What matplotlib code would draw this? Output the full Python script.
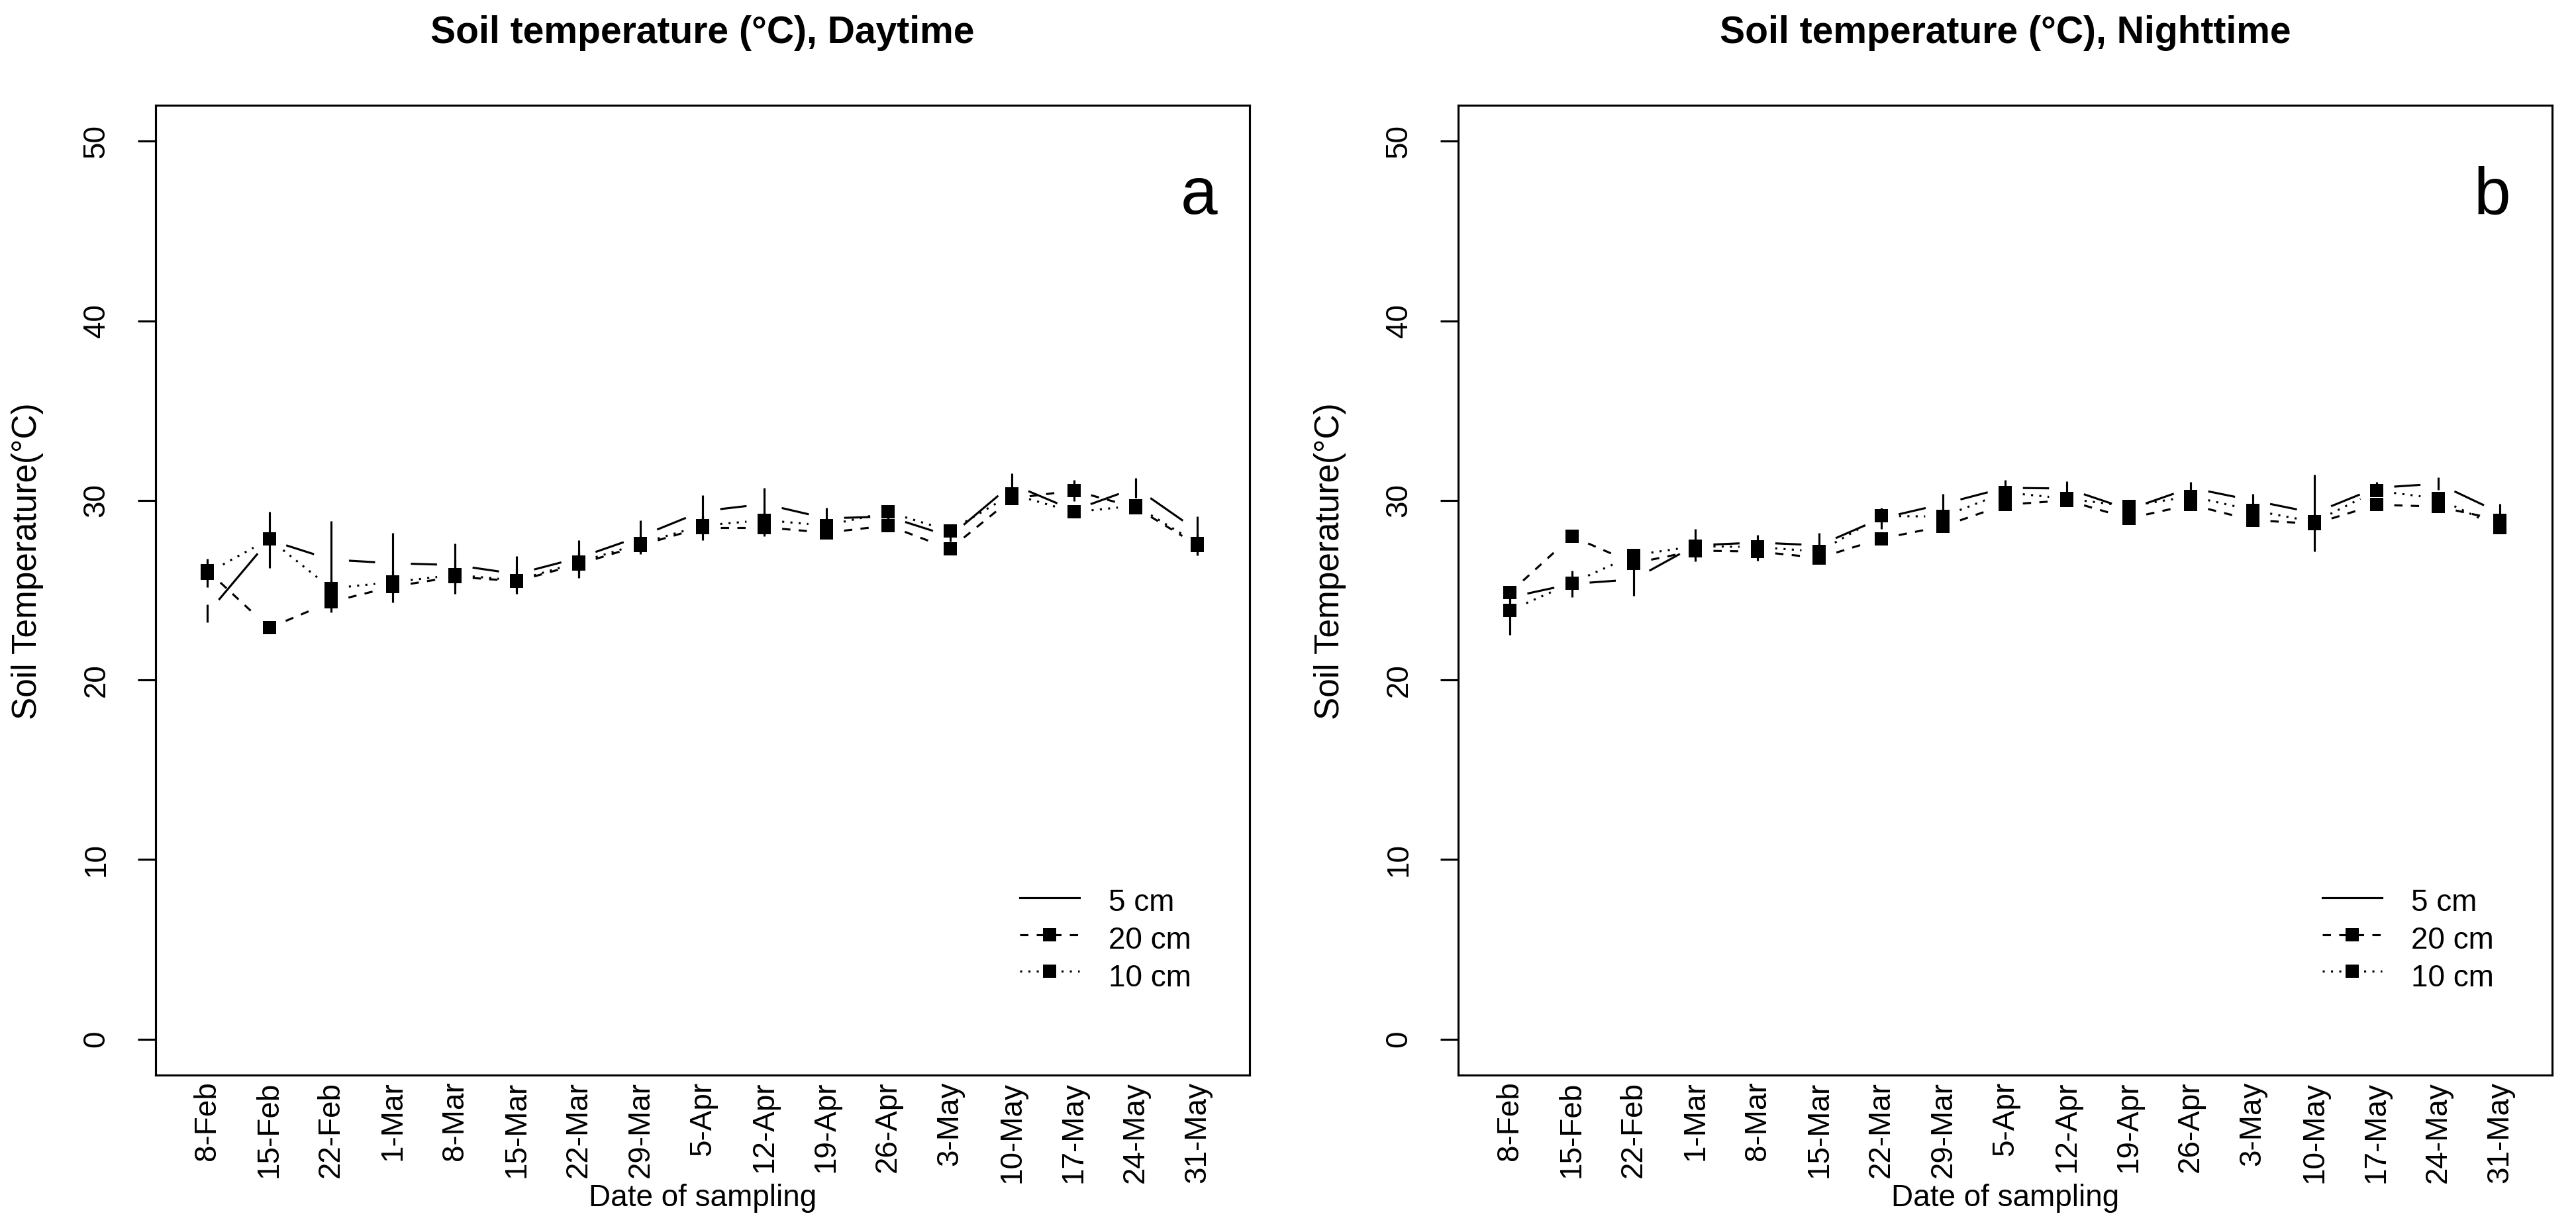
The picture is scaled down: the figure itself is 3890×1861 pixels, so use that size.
import numpy as np
import matplotlib
matplotlib.use("Agg")
import matplotlib.pyplot as plt

plt.rcParams['font.family'] = ['Liberation Sans', 'DejaVu Sans']

# Sampling dates (weekly)
dates = ['8-Feb', '15-Feb', '22-Feb', '1-Mar', '8-Mar', '15-Mar', '22-Mar', '29-Mar',
         '5-Apr', '12-Apr', '19-Apr', '26-Apr', '3-May', '10-May', '17-May', '24-May', '31-May']

# Daytime soil temperature (°C) and error
day_5cm = [23.7, 27.8, 26.7, 26.5, 26.4, 25.9, 26.8, 28.0, 29.4, 29.8, 29.0, 29.1, 28.0, 30.9, 29.45, 30.7, 28.3]
day_5cm_err = [0.5, 1.55, 2.15, 1.7, 1.2, 1.0, 1.0, 0.9, 0.9, 0.9, 0.6, 0.3, 0.3, 0.6, 0.3, 0.55, 0.8]
day_20cm = [26.1, 22.9, 24.35, 25.2, 25.75, 25.5, 26.45, 27.5, 28.5, 28.5, 28.2, 28.6, 27.3, 30.1, 30.55, 29.6, 27.5]
day_20cm_err = [0.55, 0.2, 0.58, 0.9, 0.95, 0.7, 0.75, 0.5, 0.7, 0.5, 0.3, 0.3, 0.3, 0.3, 0.6, 0.3, 0.57]
day_10cm = [25.95, 27.85, 25.1, 25.45, 25.85, 25.55, 26.55, 27.6, 28.6, 28.9, 28.6, 29.35, 28.3, 30.35, 29.35, 29.7, 27.6]
day_10cm_err = [0.8, 0.3, 0.5, 0.4, 0.5, 0.4, 0.5, 0.4, 0.5, 0.5, 0.3, 0.3, 0.3, 0.3, 0.3, 0.3, 0.5]

# Nighttime soil temperature (°C) and error
night_5cm = [24.6, 25.35, 25.6, 27.5, 27.65, 27.5, 29.0, 29.8, 30.7, 30.66, 29.5, 30.7, 30.0, 29.3, 30.7, 30.93, 29.3]
night_5cm_err = [0.3, 0.75, 0.9, 0.9, 0.42, 0.7, 0.6, 0.55, 0.45, 0.4, 0.3, 0.33, 0.35, 2.15, 0.33, 0.35, 0.5]
night_20cm = [24.86, 28.0, 26.5, 27.2, 27.15, 26.8, 27.87, 28.56, 29.76, 30.0, 29.0, 29.76, 28.9, 28.7, 29.76, 29.65, 28.9]
night_20cm_err = [0.3, 0.2, 0.3, 0.3, 0.5, 0.3, 0.3, 0.3, 0.3, 0.3, 0.3, 0.3, 0.3, 0.3, 0.3, 0.3, 0.3]
night_10cm = [23.87, 25.4, 26.95, 27.45, 27.4, 27.15, 29.13, 29.1, 30.44, 30.1, 29.67, 30.23, 29.45, 28.8, 30.54, 30.1, 28.47]
night_10cm_err = [1.37, 0.3, 0.3, 0.3, 0.3, 0.3, 0.3, 0.3, 0.3, 0.3, 0.3, 0.3, 0.3, 0.3, 0.3, 0.3, 0.3]

W, H = 3890, 1861
LW = 2.25          # line width (pt)
GAP = 27           # gap around points (px), like R type="b"
FS = 33            # base font size
DASHED = (0, (4, 4))
DOTTED = (0, (1, 3))


def gapped_line(ax, x, y, ls):
    """Draw point-to-point segments leaving a gap round each point"""
    pts = ax.transData.transform(np.column_stack([x, y]))
    inv = ax.transData.inverted()
    for i in range(len(pts) - 1):
        p0, p1 = pts[i], pts[i + 1]
        d = p1 - p0
        L = np.hypot(d[0], d[1])
        if L <= 2 * GAP:
            continue
        u = d / L
        a = inv.transform(p0 + u * GAP)
        b = inv.transform(p1 - u * GAP)
        ax.plot([a[0], b[0]], [a[1], b[1]], color='black', lw=LW, ls=ls,
                solid_capstyle='butt', dash_capstyle='butt')


def draw_panel(left_px, title, letter, letter_x, s5, e5, s20, e20, s10, e10):
    ax = fig.add_axes([left_px / W, (H - 1624) / H, 1652 / W, 1465 / H])
    x = np.arange(1, len(dates) + 1)
    ax.set_xlim(0.165, 17.84)
    ax.set_ylim(-2, 52)

    # error bars
    for s, e in [(s5, e5), (s20, e20), (s10, e10)]:
        s = np.array(s)
        e = np.array(e)
        ax.vlines(x, s - e, s + e, color='black', lw=LW)

    # lines with gaps
    gapped_line(ax, x, s5, '-')
    gapped_line(ax, x, s20, DASHED)
    gapped_line(ax, x, s10, DOTTED)

    # square markers for 20 cm and 10 cm
    ax.plot(x, s20, 's', color='black', ms=14.4, mew=0, zorder=5)
    ax.plot(x, s10, 's', color='black', ms=14.4, mew=0, zorder=5)

    # axes styling
    for sp in ax.spines.values():
        sp.set_linewidth(LW)
    ax.set_yticks([0, 10, 20, 30, 40, 50])
    ax.set_yticklabels(['0', '10', '20', '30', '40', '50'])
    ax.tick_params(axis='y', length=19.5, width=LW, pad=29, labelsize=FS, labelrotation=90)
    for lab in ax.get_yticklabels():
        lab.set_va('center')
    ax.set_xticks(x)
    ax.set_xticklabels(dates)
    ax.tick_params(axis='x', length=0, pad=7, labelsize=FS, labelrotation=90)

    ax.set_xlabel('Date of sampling', fontsize=FS)
    ax.xaxis.set_label_coords(0.5, -0.112)
    ax.set_ylabel('Soil Temperature(°C)', fontsize=37, va='center')
    ax.yaxis.set_label_coords(-0.117, 0.53)

    ax.text(0.5, 1.0642, title, transform=ax.transAxes, ha='center', va='baseline',
            fontsize=41, fontweight='bold')
    ax.text(letter_x, 0.888, letter, transform=ax.transAxes, ha='center', va='baseline',
            fontsize=72)

    # legend, drawn by hand like R's legend()
    x0, x1, xt = 0.7897, 0.8442, 0.8709
    rows = [(0.1829, 0.1693, '5 cm', '-', False),
            (0.1449, 0.1307, '20 cm', DASHED, True),
            (0.1072, 0.0918, '10 cm', DOTTED, True)]
    for yl, yb, lab, ls, mark in rows:
        ax.plot([x0, x1], [yl, yl], transform=ax.transAxes, color='black', lw=LW, ls=ls,
                dash_capstyle='butt')
        if mark:
            ax.plot([(x0 + x1) / 2], [yl], 's', transform=ax.transAxes, color='black',
                    ms=14.4, mew=0)
        ax.text(xt, yb, lab, transform=ax.transAxes, ha='left', va='baseline', fontsize=FS)
    return ax


fig = plt.figure(figsize=(W / 100, H / 100), dpi=100)
draw_panel(235, 'Soil temperature (°C), Daytime', 'a', 0.954,
           day_5cm, day_5cm_err, day_20cm, day_20cm_err, day_10cm, day_10cm_err)
draw_panel(2202, 'Soil temperature (°C), Nighttime', 'b', 0.945,
           night_5cm, night_5cm_err, night_20cm, night_20cm_err, night_10cm, night_10cm_err)

fig.savefig('out.png', dpi=100, facecolor='white')
